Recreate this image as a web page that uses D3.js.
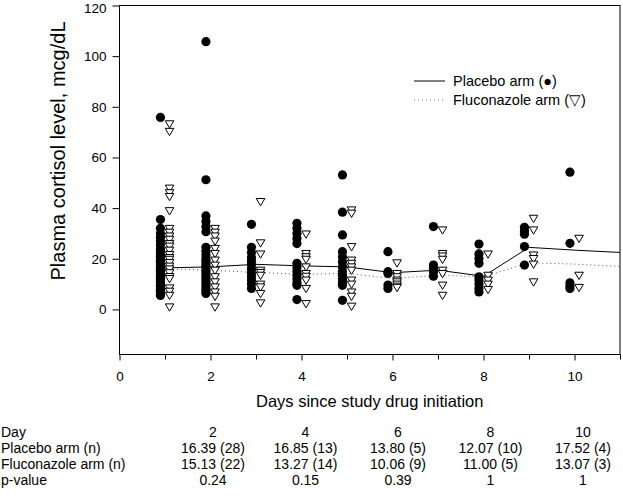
<!DOCTYPE html>
<html><head><meta charset="utf-8">
<script src="https://cdn.jsdelivr.net/npm/d3@7"></script>
<style>
body{margin:0;background:#fff}
text{font-family:Arial,"Liberation Sans",sans-serif;fill:#000}
</style>
</head><body>
<svg id="chart" width="623" height="496"></svg>
<script>
// ---- data ----
const days = [1,2,3,4,5,6,7,8,9,10];
const placeboValues = [
  [75.8,35.5,32,30,28.5,27,25.5,24,23,22,21,20,19,18.5,18,17,16,15.5,15,14,13,12.5,12,11,10,9.5,9,8,7.5,7,6,5.5],
  [105.7,51.2,36.9,34.7,32.7,30.7,24.5,23,21.5,20,19,18,17,16,15,14,13,12,11,10,9,8,7,6.3],
  [33.6,24.5,22.5,20.5,19,17.5,16,14.5,13,11.5,10,8.3],
  [34,32,30,28,26,18.2,16.5,15,13.5,12,10.5,9.5,3.9],
  [53.1,38.4,29.4,22.8,20.8,18.8,16.8,15,13.5,12,10.5,9.5,3.6],
  [22.8,14.9,14.2,9.6,8.3],
  [32.7,17.5,16.2,14.9,13.1],
  [25.8,21.9,20.1,18.2,12.9,11.6,10,8.3,6.9],
  [32.4,31.1,29.7,24.8,17.5],
  [54.2,26.1,10.5,9.2,8.3]
];
const fluconazoleValues = [
  [73.3,70.3,47.9,46.1,44.6,39,32,30.5,29,27.7,26,25,23.4,21.7,20.5,19.8,18.5,17.1,16,14.5,13,12.2,8.5,7.2,5.6,1.0],
  [32,30.5,29,27,24.1,22.1,19.5,17.5,15.5,12.9,10.9,8.9,6.9,5.2,1.0],
  [42.6,26.3,21.9,15.5,14.6,13.5,10,8.9,6.3,2.6],
  [29.8,22.1,20.8,19.8,16.8,14.2,13.1,11.6,8.3,2.3],
  [39.3,38,24.8,19.5,18.2,16.8,15.5,11.6,10,6.9,5.2,1.3],
  [18.4,14.2,12.9,11.6,10.9,10,9.2,8.7],
  [31.4,22.1,21.1,19.8,15.5,14.2,9.6,5.6],
  [21.9,13.5,11.6,10,7.9],
  [36,31.4,21.5,20.1,17.9,10.9],
  [28.1,13.5,8.7]
];
const trendDays = [1,2,3,4,5,6,7,8,9,10,11];
const placeboTrend = [16.4,16.8,17.8,17.2,16.8,14.5,15.5,13.1,24.5,23.4,22.5];
const fluconazoleTrend = [16.0,15.5,14.6,13.9,14.2,12.2,13.5,12.9,18.4,17.9,17.0];

const yTicks = [0,20,40,60,80,100,120];
const xMajorTicks = [0,2,4,6,8,10];
const xMinorTicks = [1,3,5,7,9,11];

const tableDays = [2,4,6,8,10];
const tableRowLabels = ["Day","Placebo arm (n)","Fluconazole arm (n)","p-value"];
const tablePlacebo = ["16.39 (28)","16.85 (13)","13.80 (5)","12.07 (10)","17.52 (4)"];
const tableFluconazole = ["15.13 (22)","13.27 (14)","10.06 (9)","11.00 (5)","13.07 (3)"];
const tablePValues = ["0.24","0.15","0.39","1","1"];

const xTitle = "Days since study drug initiation";
const yTitle = "Plasma cortisol level, mcg/dL";
const legendLabels = ["Placebo arm (\u25CF)","Fluconazole arm (\u25BD)"];

// ---- layout ----
const svg = d3.select("#chart");
const pLeft = 119.5, pRight = 620, pTop = 5.5, pBottom = 354.5;
const x = d3.scaleLinear().domain([0,11]).range([pLeft,pRight]);
const y = d3.scaleLinear().domain([-17.8,120]).range([pBottom,pTop]);
const jitter = 0.1;

// frame
svg.append("rect").attr("x",pLeft).attr("y",pTop).attr("width",pRight-pLeft).attr("height",pBottom-pTop)
  .attr("fill","none").attr("stroke","#000").attr("stroke-width",1);

// y axis
const yAxis = svg.append("g").attr("transform",`translate(${pLeft},0)`)
  .call(d3.axisLeft(y).tickValues(yTicks).tickSize(7).tickPadding(6));
yAxis.select(".domain").remove();
yAxis.selectAll("text").style("font-size","13.5px").style("font-family","Arial, 'Liberation Sans', sans-serif")
  .attr("dy",(d)=> d===120 ? "0.5em" : "0.32em");

// x axis
const xAxis = svg.append("g").attr("transform",`translate(0,${pBottom})`)
  .call(d3.axisBottom(x).tickValues(xMajorTicks).tickSize(6).tickPadding(11));
xAxis.select(".domain").remove();
xAxis.selectAll("text").style("font-size","13.5px").style("font-family","Arial, 'Liberation Sans', sans-serif");
const xMinor = svg.append("g").attr("transform",`translate(0,${pBottom})`)
  .call(d3.axisBottom(x).tickValues(xMinorTicks).tickSize(5).tickFormat(""));
xMinor.select(".domain").remove();

// trend lines
const line = d3.line().x((d,i)=>x(trendDays[i])).y(d=>y(d));
svg.append("path").datum(placeboTrend).attr("d",line).attr("fill","none").attr("stroke","#000").attr("stroke-width",1);
svg.append("path").datum(fluconazoleTrend).attr("d",line).attr("fill","none").attr("stroke","#555")
  .attr("stroke-width",1).attr("stroke-dasharray","1,3");

// points
const placeboPts = [], flucoPts = [];
days.forEach((d,i)=>{
  placeboValues[i].forEach(v=>placeboPts.push({day:d,v}));
  fluconazoleValues[i].forEach(v=>flucoPts.push({day:d,v}));
});
svg.append("g").selectAll("circle").data(placeboPts).join("circle")
  .attr("cx",d=>x(d.day-jitter)).attr("cy",d=>y(d.v)).attr("r",4.6).attr("fill","#000");

const downTriangle = {draw(ctx,size){ ctx.moveTo(-4.3,-3); ctx.lineTo(4.3,-3); ctx.lineTo(0,4.3); ctx.closePath(); }};
svg.append("g").selectAll("path").data(flucoPts).join("path")
  .attr("d",d3.symbol().type(downTriangle).size(50))
  .attr("transform",d=>`translate(${x(d.day+jitter)},${y(d.v)})`)
  .attr("fill","#fff").attr("stroke","#000").attr("stroke-width",1);

// legend
const lg = svg.append("g");
lg.append("line").attr("x1",414).attr("x2",445).attr("y1",81).attr("y2",81).attr("stroke","#000");
lg.append("line").attr("x1",414).attr("x2",445).attr("y1",100).attr("y2",100).attr("stroke","#777").attr("stroke-dasharray","1,3");
lg.selectAll("text").data(legendLabels).join("text")
  .attr("x",453).attr("y",(d,i)=>86+i*19).style("font-size","14.5px").text(d=>d);

// axis titles
svg.append("text").attr("x",(pLeft+pRight)/2).attr("y",407).attr("text-anchor","middle")
  .style("font-size","16.5px").text(xTitle);
svg.append("text").attr("transform","translate(65,151) rotate(-90)").attr("text-anchor","middle")
  .style("font-size","20px").text(yTitle);

// table
const tx = d3.scaleLinear().domain([2,10]).range([213,583]);
const rowY = [437,453,469,485];
svg.append("g").selectAll("text").data(tableRowLabels).join("text")
  .attr("x",1).attr("y",(d,i)=>rowY[i]).style("font-size","14px").text(d=>d);
const rows = [tableDays.map(String), tablePlacebo, tableFluconazole, tablePValues];
rows.forEach((r,ri)=>{
  svg.append("g").selectAll("text").data(r).join("text")
    .attr("x",(d,i)=>tx(tableDays[i])).attr("y",rowY[ri]).attr("text-anchor","middle")
    .style("font-size","14px").text(d=>d);
});
</script>
</body></html>
